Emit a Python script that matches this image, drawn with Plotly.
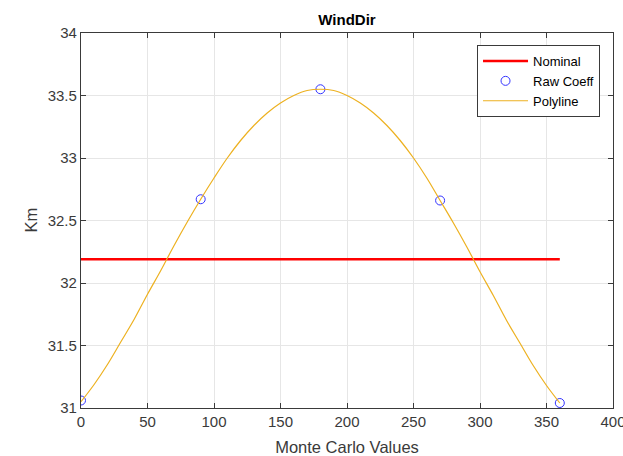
import plotly.graph_objects as go

# Data
raw_x = [0, 90, 180, 270, 360]
raw_y = [31.06, 32.67, 33.55, 32.66, 31.04]

nominal_x = [0, 360]
nominal_y = [32.19, 32.19]

poly_x = [0, 10, 20, 30, 40, 50, 60, 70, 80, 90, 100, 110, 120, 130, 140, 150, 160, 170, 180,
          190, 200, 210, 220, 230, 240, 250, 260, 270, 280, 290, 300, 310, 320, 330, 340, 350, 360]
poly_y = [31.05, 31.19, 31.35, 31.53, 31.71, 31.91, 32.10, 32.30, 32.49, 32.67, 32.84, 33.00,
          33.14, 33.26, 33.36, 33.44, 33.50, 33.54, 33.55,
          33.54, 33.50, 33.44, 33.36, 33.26, 33.14, 33.00, 32.84, 32.66, 32.48, 32.29, 32.09,
          31.90, 31.70, 31.52, 31.34, 31.18, 31.04]

x_ticks = [0, 50, 100, 150, 200, 250, 300, 350, 400]
y_ticks = [31, 31.5, 32, 32.5, 33, 33.5, 34]

FONT = "Liberation Sans, Arial, sans-serif"
AX = "#3a3a3a"

fig = go.Figure()
fig.add_trace(go.Scatter(x=nominal_x, y=nominal_y, mode="lines", name="Nominal",
                         line=dict(color="#ff0000", width=2.5)))
fig.add_trace(go.Scatter(x=raw_x, y=raw_y, mode="markers", name="Raw Coeff",
                         marker=dict(symbol="circle-open", size=9, color="#3333ff",
                                     line=dict(width=1, color="#3333ff"))))
fig.add_trace(go.Scatter(x=poly_x, y=poly_y, mode="lines", name="Polyline",
                         line=dict(color="#EDB120", width=1.2, shape="spline")))

axis_common = dict(showline=True, linecolor=AX, linewidth=1.2, mirror="ticks",
                   ticks="inside", ticklen=5, tickcolor=AX, tickwidth=1,
                   showgrid=True, gridcolor="#e6e6e6", gridwidth=1,
                   zeroline=False, ticklabeloverflow="allow", automargin=False,
                   tickfont=dict(family=FONT, size=15, color=AX))

fig.update_layout(
    width=623, height=456,
    margin=dict(l=81, r=10, t=33, b=48),
    paper_bgcolor="white", plot_bgcolor="white",
    title=dict(text="<b>WindDir</b>", x=(81 + 613) / 2 / 623, xanchor="center",
               y=1 - 20 / 456, yanchor="middle",
               font=dict(family=FONT, size=15, color="#000000")),
    xaxis=dict(range=[0, 400], tickvals=x_ticks,
               title=dict(text="Monte Carlo Values", font=dict(family=FONT, size=16.5, color=AX)),
               **axis_common),
    yaxis=dict(range=[31, 34], tickvals=y_ticks, **axis_common),
    legend=dict(x=0.9756, y=0.968, xanchor="right", yanchor="top",
                bgcolor="white", bordercolor=AX, borderwidth=1,
                font=dict(family=FONT, size=13, color="#000000"),
                tracegroupgap=0, itemwidth=45),
    showlegend=True,
    annotations=[dict(text="Km", xref="paper", yref="paper", x=-81 + 30, y=0.5,
                      xanchor="center", yanchor="middle", textangle=-90, showarrow=False,
                      font=dict(family=FONT, size=16.5, color=AX))],
)
# position the y-axis label in pixels from the plot area's left edge
fig.layout.annotations[0].x = (30 - 81) / 532

fig.write_html("out.html")
